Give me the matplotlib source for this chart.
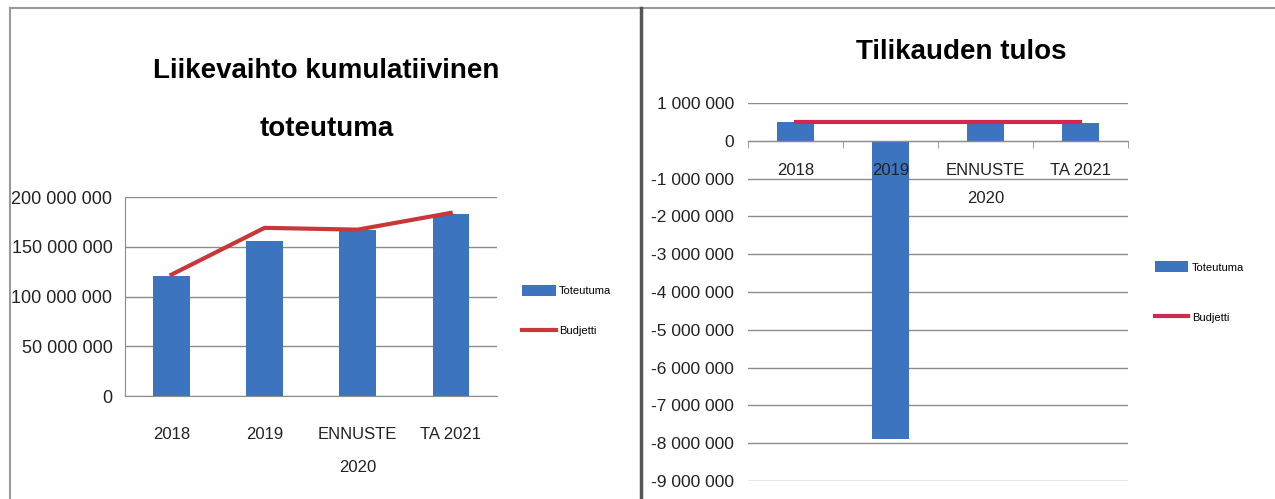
import matplotlib
matplotlib.use("Agg")
import matplotlib.pyplot as plt
from matplotlib.lines import Line2D
from matplotlib.ticker import FuncFormatter, MultipleLocator

# data
categories = ["2018", "2019", "ENNUSTE\n2020", "TA 2021"]

liikevaihto_toteutuma = [120_500_000, 156_000_000, 166_500_000, 183_300_000]
liikevaihto_budjetti = [122_000_000, 169_000_000, 167_200_000, 184_000_000]

tulos_toteutuma = [500_000, -7_900_000, 460_000, 480_000]
tulos_budjetti = [500_000, 500_000, 500_000, 500_000]

BAR = "#3D74C0"
plt.rcParams["font.family"] = ["Liberation Sans", "DejaVu Sans"]


def space_thousands(v, pos=None):
    return f"{v:,.0f}".replace(",", " ")


fig = plt.figure(figsize=(12.75, 4.99), dpi=100)

# panel borders like the screenshot
for xs, ys, lw, col in [
    ([0.008, 1.0], [0.984, 0.984], 1.5, "#9a9a9a"),
    ([0.008, 0.008], [0.0, 0.984], 1.5, "#9a9a9a"),
    ([0.503, 0.503], [0.0, 0.984], 2.5, "#555555"),
]:
    fig.add_artist(Line2D(xs, ys, transform=fig.transFigure, lw=lw, color=col))

x = list(range(len(categories)))

# ---- left: Liikevaihto kumulatiivinen toteutuma
ax1 = fig.add_axes([0.098, 0.2064, 0.292, 0.3988])
ax1.set_axisbelow(True)
b1 = ax1.bar(x, liikevaihto_toteutuma, width=0.39, color=BAR, label="Toteutuma", zorder=2)
l1, = ax1.plot(x, liikevaihto_budjetti, color="#C8383A", lw=3, label="Budjetti", zorder=3)
ax1.set_xlim(-0.5, 3.5)
ax1.set_ylim(0, 200_000_000)
ax1.yaxis.set_major_locator(MultipleLocator(50_000_000))
ax1.yaxis.set_major_formatter(FuncFormatter(space_thousands))
ax1.grid(axis="y", color="#8c8c8c", lw=1)
ax1.set_xticks(x)
ax1.set_xticklabels(categories)
ax1.tick_params(axis="x", length=0, pad=22, labelsize=12, labelcolor="#222222")
ax1.tick_params(axis="y", length=0, labelsize=13, labelcolor="#222222", pad=9)
for t in ax1.get_xticklabels():
    t.set_linespacing(2.5)
for s in ["top", "right"]:
    ax1.spines[s].set_visible(False)
for s in ["left", "bottom"]:
    ax1.spines[s].set_color("#8c8c8c")
ax1.legend([b1, l1], ["Toteutuma", "Budjetti"], loc="center left",
           bbox_to_anchor=(1.067, 0.43), frameon=False,
           fontsize=8, handlelength=3.0, handleheight=1.2, labelspacing=2.6,
           borderpad=0, borderaxespad=0, handletextpad=0.3)
fig.text(0.256, 0.80, "Liikevaihto kumulatiivinen\ntoteutuma", ha="center",
         va="center", fontsize=20, fontweight="bold", linespacing=2.6)

# ---- right: Tilikauden tulos
ax2 = fig.add_axes([0.5867, 0.0361, 0.298, 0.7575])
ax2.spines["bottom"].set_position(("data", 0))
ax2.spines["bottom"].set_color("#8c8c8c")
for s in ["top", "right", "left"]:
    ax2.spines[s].set_visible(False)
ax2.set_axisbelow(True)
b2 = ax2.bar(x, tulos_toteutuma, width=0.39, color=BAR, label="Toteutuma", zorder=2)
l2, = ax2.plot(x, tulos_budjetti, color="#D02850", lw=3, label="Budjetti", zorder=3)
ax2.set_xlim(-0.5, 3.5)
ax2.set_ylim(-9_000_000, 1_000_000)
ax2.yaxis.set_major_locator(MultipleLocator(1_000_000))
ax2.yaxis.set_major_formatter(FuncFormatter(space_thousands))
ax2.grid(axis="y", color="#8c8c8c", lw=1)
ax2.set_xticks(x)
ax2.set_xticklabels(categories)
ax2.set_xticks([i + 0.5 for i in range(-1, len(categories))], minor=True)
ax2.tick_params(axis="x", which="major", length=0, pad=16, labelsize=12,
                labelcolor="#222222")
ax2.tick_params(axis="x", which="minor", length=5, color="#8c8c8c")
ax2.tick_params(axis="y", length=0, labelsize=12.5, labelcolor="#222222", pad=10)
for t in ax2.get_xticklabels():
    t.set_linespacing(2.1)
ax2.xaxis.set_zorder(5)
ax2.legend([b2, l2], ["Toteutuma", "Budjetti"], loc="center left",
           bbox_to_anchor=(1.071, 0.50), frameon=False,
           fontsize=8, handlelength=3.0, handleheight=1.2, labelspacing=3.5,
           borderpad=0, borderaxespad=0, handletextpad=0.3)
fig.text(0.754, 0.895, "Tilikauden tulos", ha="center", va="center",
         fontsize=20, fontweight="bold")

fig.savefig("out.png", dpi=100)
